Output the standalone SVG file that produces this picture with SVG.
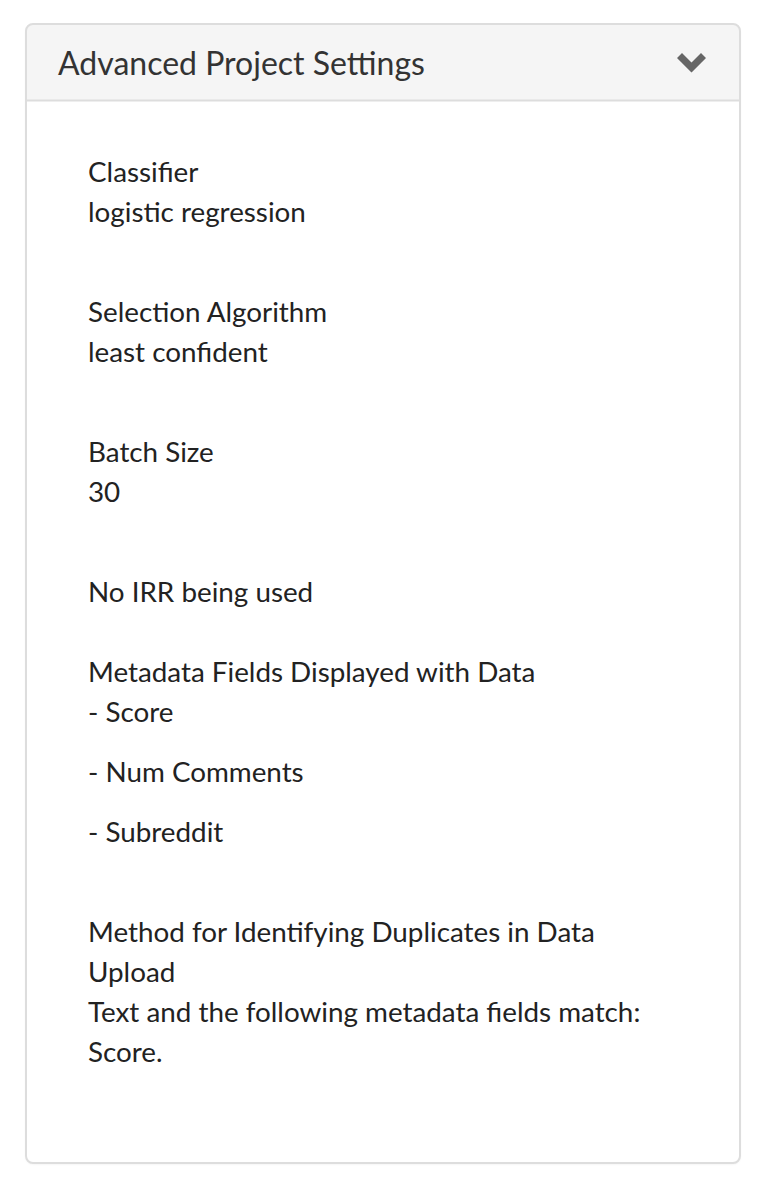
<svg xmlns="http://www.w3.org/2000/svg" width="764" height="1190" viewBox="0 0 764 1190">
<style>
.h{font-family:Lato,"Open Sans",sans-serif;font-size:32px;fill:#333333}
.t{font-family:Lato,"Open Sans",sans-serif;font-size:27.8px;fill:#222222}
</style>
<defs>
<filter id="sh" x="-5%" y="-5%" width="110%" height="110%"><feDropShadow dx="0" dy="1" stdDeviation="1" flood-color="#000" flood-opacity="0.08"/></filter>
<clipPath id="cp"><rect x="26" y="24" width="714" height="1139" rx="7"/></clipPath>
</defs>
<rect width="764" height="1190" fill="#ffffff"/>
<g id="panel">
<rect x="26" y="24" width="714" height="1139" rx="7" fill="#ffffff" filter="url(#sh)"/>
<rect x="26" y="24" width="714" height="77" fill="#f5f5f5" clip-path="url(#cp)"/>
<line x1="26" y1="100.5" x2="740" y2="100.5" stroke="#dddddd" stroke-width="2"/>
<rect x="26" y="24" width="714" height="1139" rx="7" fill="none" stroke="#dddddd" stroke-width="2"/>
</g>
<g id="header">
<text class="h" x="58" y="75">Advanced Project Settings</text>
<path id="chevron" d="M677 58 L682 53 L691.5 62.5 L701 53 L706 58 L691.5 72.5 Z" fill="#666666"/>
</g>
<g id="body">
<text class="t" x="88" y="182">Classifier</text>
<text class="t" x="88" y="222">logistic regression</text>
<text class="t" x="88" y="322">Selection Algorithm</text>
<text class="t" x="88" y="362">least confident</text>
<text class="t" x="88" y="462">Batch Size</text>
<text class="t" x="88" y="502">30</text>
<text class="t" x="88" y="602">No IRR being used</text>
<text class="t" x="88" y="682">Metadata Fields Displayed with Data</text>
<text class="t" x="88" y="722">- Score</text>
<text class="t" x="88" y="782">- Num Comments</text>
<text class="t" x="88" y="842">- Subreddit</text>
<text class="t" x="88" y="942">Method for Identifying Duplicates in Data</text>
<text class="t" x="88" y="982">Upload</text>
<text class="t" x="88" y="1022">Text and the following metadata fields match:</text>
<text class="t" x="88" y="1062">Score.</text>
</g>
</svg>
